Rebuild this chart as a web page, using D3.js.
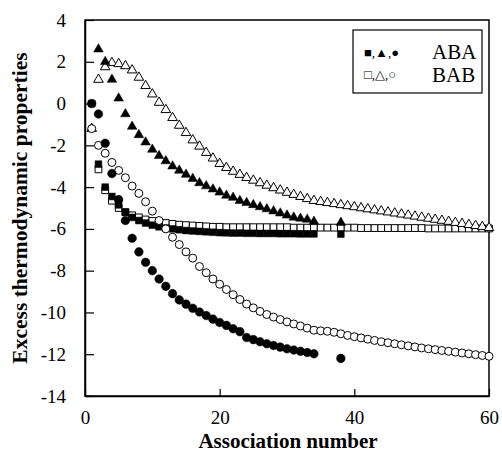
<!DOCTYPE html>
<html>
<head>
<meta charset="utf-8">
<script src="https://cdn.jsdelivr.net/npm/d3@7"></script>
<style>
  body { margin: 0; background: #fff; }
  text { font-family: "Liberation Serif", "Times New Roman", serif; }
</style>
</head>
<body>
<div id="chart"></div>
<script>
// association numbers and values
var nShort = [1,2,3,4,5,6,7,8,9,10,11,12,13,14,15,16,17,18,19,20,21,22,23,24,25,26,27,28,29,30,31,32,33,34,38];
var nLong = d3.range(1, 61);

// ABA (filled)
var abaSquare = [0,-2.9,-4.0,-4.45,-4.85,-5.2,-5.45,-5.6,-5.72,-5.82,-5.9,-5.96,-6.0,-6.04,-6.08,-6.1,-6.12,-6.14,-6.16,-6.18,-6.19,-6.2,-6.2,-6.21,-6.21,-6.22,-6.22,-6.22,-6.23,-6.23,-6.23,-6.24,-6.24,-6.24,-6.25];
var abaTriangle = [null,2.6,2.0,1.15,0.25,-0.5,-1.1,-1.5,-1.85,-2.2,-2.5,-2.75,-3.0,-3.2,-3.4,-3.6,-3.8,-3.95,-4.1,-4.25,-4.4,-4.5,-4.65,-4.75,-4.85,-4.95,-5.05,-5.15,-5.25,-5.35,-5.45,-5.5,-5.55,-5.65,-5.7];
var abaCircle = [0,-0.5,-1.9,-3.35,-4.6,-5.6,-6.45,-7.1,-7.6,-8.0,-8.4,-8.75,-9.1,-9.4,-9.6,-9.8,-9.98,-10.15,-10.32,-10.48,-10.62,-10.78,-10.92,-11.2,-11.3,-11.4,-11.5,-11.58,-11.66,-11.74,-11.8,-11.86,-11.92,-11.98,-12.2];

// BAB (open)
var babSquare = [null,-3.15,-4.15,-4.65,-5.0,-5.2,-5.35,-5.45,-5.55,-5.62,-5.68,-5.72,-5.76,-5.8,-5.82,-5.84,-5.86,-5.88,-5.9,-5.9,
  -5.92,-5.92,-5.92,-5.92,-5.92,-5.92,-5.92,-5.92,-5.92,-5.92,-5.94,-5.94,-5.94,-5.94,-5.94,-5.94,-5.94,-5.94,-5.94,-5.94,
  -5.96,-5.96,-5.96,-5.96,-5.96,-5.96,-5.96,-5.96,-5.96,-5.96,-5.98,-5.98,-5.98,-5.98,-5.98,-5.98,-5.98,-5.98,-5.98,-5.98];
var babTriangle = [-1.2,1.15,1.75,1.95,1.9,1.8,1.6,1.25,0.85,0.45,0.05,-0.3,-0.68,-1.05,-1.4,-1.75,-2.05,-2.35,-2.62,-2.88,
  -3.07,-3.25,-3.4,-3.55,-3.68,-3.8,-3.92,-4.04,-4.15,-4.26,-4.36,-4.46,-4.56,-4.65,-4.7,-4.75,-4.8,-4.85,-4.9,-4.95,
  -5.0,-5.05,-5.1,-5.15,-5.2,-5.25,-5.3,-5.35,-5.4,-5.45,-5.5,-5.55,-5.6,-5.65,-5.7,-5.75,-5.8,-5.85,-5.9,-5.95];
var babCircle = [-1.2,-2.0,-2.38,-2.82,-3.2,-3.55,-3.95,-4.3,-4.7,-5.15,-5.6,-6.0,-6.4,-6.75,-7.1,-7.4,-7.8,-8.1,-8.4,-8.65,
  -8.9,-9.15,-9.38,-9.6,-9.78,-9.95,-10.1,-10.22,-10.34,-10.45,-10.55,-10.65,-10.75,-10.85,-10.88,-10.9,-10.95,-11.02,-11.1,-11.16,
  -11.22,-11.28,-11.34,-11.4,-11.45,-11.5,-11.55,-11.6,-11.65,-11.7,-11.74,-11.78,-11.82,-11.86,-11.9,-11.94,-11.98,-12.02,-12.06,-12.1];

var xTicks = [0, 20, 40, 60];
var yTicks = [4, 2, 0, -2, -4, -6, -8, -10, -12, -14];

var width = 502, height = 456;
var plotL = 85, plotR = 489, plotT = 20, plotB = 396;

var svg = d3.select("#chart").append("svg")
    .attr("width", width)
    .attr("height", height);

var x = d3.scaleLinear().domain([0, 60]).range([plotL, plotR]);
var y = d3.scaleLinear().domain([-14, 4]).range([plotB, plotT]);

// frame
svg.append("rect")
   .attr("x", plotL).attr("y", plotT)
   .attr("width", plotR - plotL).attr("height", plotB - plotT)
   .attr("fill", "none").attr("stroke", "#000").attr("stroke-width", 1.5);

var xAxis = svg.append("g")
   .attr("transform", `translate(0, ${plotB})`)
   .call(d3.axisBottom(x).tickValues(xTicks).tickFormat(d => String(d))
         .tickSizeInner(-7).tickSizeOuter(0).tickPadding(15));
var yAxis = svg.append("g")
   .attr("transform", `translate(${plotL}, 0)`)
   .call(d3.axisLeft(y).tickValues(yTicks).tickFormat(d => String(d))
         .tickSizeInner(-9).tickSizeOuter(0).tickPadding(19));

[xAxis, yAxis].forEach(function(g) {
    g.select(".domain").attr("stroke-width", 1.5);
    g.selectAll(".tick line").attr("stroke-width", 1.2);
    g.selectAll("text").attr("font-size", 19).attr("fill", "#000")
     .style("font-family", '"Liberation Serif", serif');
});

function drawSeries(ns, vals, type, size, filled) {
    var pts = ns.map((n, i) => ({n: n, v: vals[i]})).filter(d => d.v !== null && d.v !== undefined);
    var sym = d3.symbol().type(type).size(size);
    svg.append("g").selectAll("path")
       .data(pts)
       .enter().append("path")
       .attr("transform", d => `translate(${x(d.n)}, ${y(d.v)})`)
       .attr("d", sym)
       .attr("fill", filled ? "#000" : "#fff")
       .attr("stroke", "#000")
       .attr("stroke-width", filled ? 0.5 : 1);
}

drawSeries(nLong, babSquare, d3.symbolSquare, 46, false);
drawSeries(nShort, abaSquare, d3.symbolSquare, 46, true);
drawSeries(nLong, babTriangle, d3.symbolTriangle, 40, false);
drawSeries(nShort, abaTriangle, d3.symbolTriangle, 40, true);
drawSeries(nLong, babCircle, d3.symbolCircle, 50, false);
drawSeries(nShort, abaCircle, d3.symbolCircle, 58, true);

// legend
var lg = svg.append("g");
lg.append("rect")
  .attr("x", 353).attr("y", 30).attr("width", 129).attr("height", 63)
  .attr("fill", "#fff").attr("stroke", "#000").attr("stroke-width", 1.2);
lg.append("text").attr("x", 364).attr("y", 57).attr("font-size", 13).text("\u25A0,\u25B2,\u25CF");
lg.append("text").attr("x", 364).attr("y", 79).attr("font-size", 13).text("\u25A1,\u25B3,\u25CB");
lg.append("text").attr("x", 432).attr("y", 59).attr("font-size", 21).text("ABA");
lg.append("text").attr("x", 432).attr("y", 82).attr("font-size", 21).text("BAB");

// axis titles
svg.append("text")
   .attr("x", 288).attr("y", 448)
   .attr("text-anchor", "middle")
   .attr("font-size", 21).attr("font-weight", "bold")
   .text("Association number");
svg.append("text")
   .attr("transform", "translate(27, 208) rotate(-90)")
   .attr("text-anchor", "middle")
   .attr("font-size", 21.5).attr("font-weight", "bold")
   .text("Excess thermodynamic properties");
</script>
</body>
</html>
